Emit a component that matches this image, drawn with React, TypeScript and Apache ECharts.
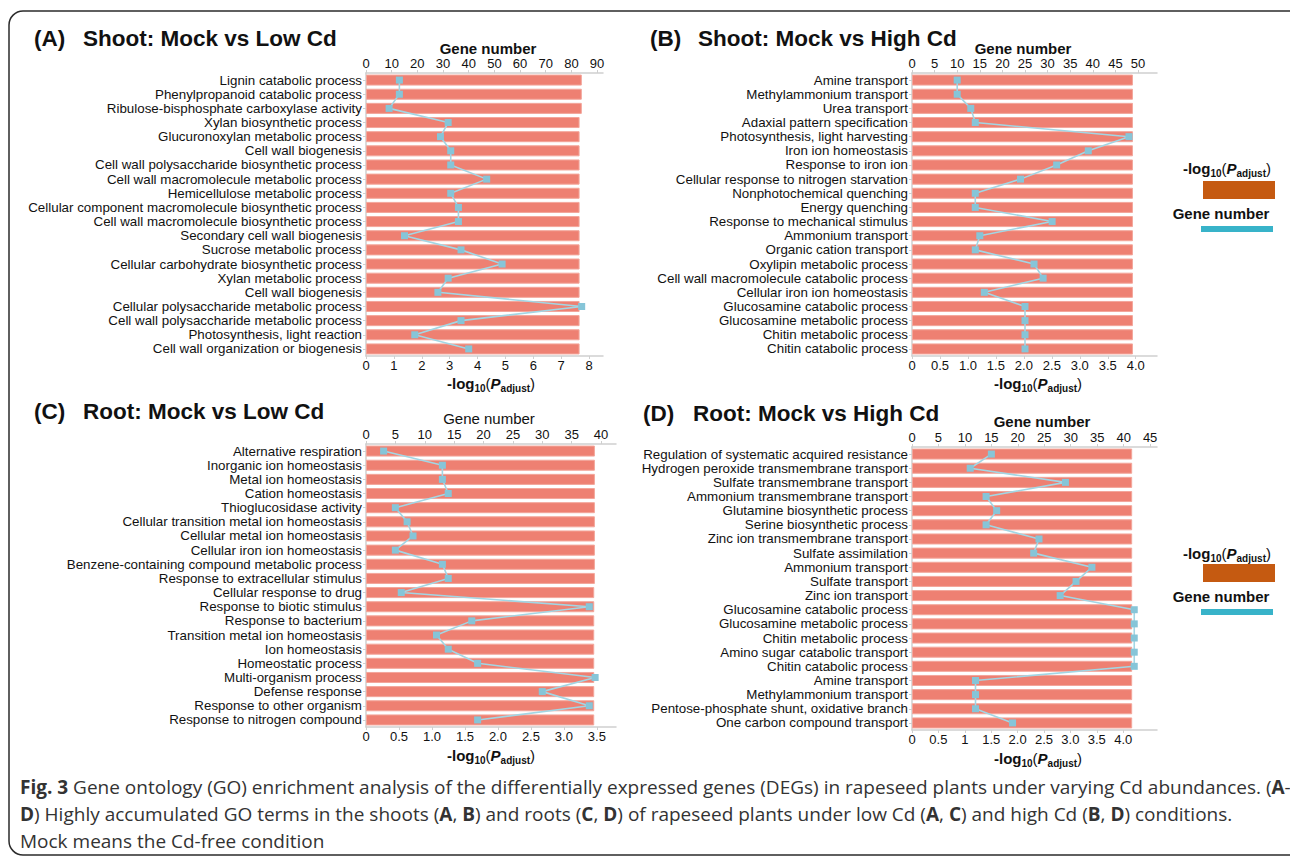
import React, { useEffect, useRef } from "react";
import * as echarts from "echarts";

// ---------- DATA ----------
const catsA = [
  "Lignin catabolic process",
  "Phenylpropanoid catabolic process",
  "Ribulose-bisphosphate carboxylase activity",
  "Xylan biosynthetic process",
  "Glucuronoxylan metabolic process",
  "Cell wall biogenesis",
  "Cell wall polysaccharide biosynthetic process",
  "Cell wall macromolecule metabolic process",
  "Hemicellulose metabolic process",
  "Cellular component macromolecule biosynthetic process",
  "Cell wall macromolecule biosynthetic process",
  "Secondary cell wall biogenesis",
  "Sucrose metabolic process",
  "Cellular carbohydrate biosynthetic process",
  "Xylan metabolic process",
  "Cell wall biogenesis",
  "Cellular polysaccharide metabolic process",
  "Cell wall polysaccharide metabolic process",
  "Photosynthesis, light reaction",
  "Cell wall organization or biogenesis",
];
const pvalA = [7.74, 7.74, 7.74, 7.66, 7.66, 7.66, 7.66, 7.66, 7.66, 7.66, 7.66, 7.66, 7.66, 7.66, 7.66, 7.66, 7.66, 7.66, 7.66, 7.66];
const genesA = [13, 13, 9, 32, 29, 33, 33, 47, 33, 36, 36, 15, 37, 53, 32, 28, 84, 37, 19, 40];

const catsB = [
  "Amine transport",
  "Methylammonium transport",
  "Urea transport",
  "Adaxial pattern specification",
  "Photosynthesis, light harvesting",
  "Iron ion homeostasis",
  "Response to iron ion",
  "Cellular response to nitrogen starvation",
  "Nonphotochemical quenching",
  "Energy quenching",
  "Response to mechanical stimulus",
  "Ammonium transport",
  "Organic cation transport",
  "Oxylipin metabolic process",
  "Cell wall macromolecule catabolic process",
  "Cellular iron ion homeostasis",
  "Glucosamine catabolic process",
  "Glucosamine metabolic process",
  "Chitin metabolic process",
  "Chitin catabolic process",
];
const pvalB = [3.95, 3.95, 3.95, 3.95, 3.95, 3.95, 3.95, 3.95, 3.95, 3.95, 3.95, 3.95, 3.95, 3.95, 3.95, 3.95, 3.95, 3.95, 3.95, 3.95];
const genesB = [10, 10, 13, 14, 48, 39, 32, 24, 14, 14, 31, 15, 14, 27, 29, 16, 25, 25, 25, 25];

const catsC = [
  "Alternative respiration",
  "Inorganic ion homeostasis",
  "Metal ion homeostasis",
  "Cation homeostasis",
  "Thioglucosidase activity",
  "Cellular transition metal ion homeostasis",
  "Cellular metal ion homeostasis",
  "Cellular iron ion homeostasis",
  "Benzene-containing compound metabolic process",
  "Response to extracellular stimulus",
  "Cellular response to drug",
  "Response to biotic stimulus",
  "Response to bacterium",
  "Transition metal ion homeostasis",
  "Ion homeostasis",
  "Homeostatic process",
  "Multi-organism process",
  "Defense response",
  "Response to other organism",
  "Response to nitrogen compound",
];
const pvalC = [3.47, 3.47, 3.47, 3.47, 3.47, 3.47, 3.47, 3.47, 3.47, 3.47, 3.46, 3.46, 3.46, 3.46, 3.46, 3.46, 3.46, 3.46, 3.46, 3.46];
const genesC = [3, 13, 13, 14, 5, 7, 8, 5, 13, 14, 6, 38, 18, 12, 14, 19, 39, 30, 38, 19];

const catsD = [
  "Regulation of systematic acquired resistance",
  "Hydrogen peroxide transmembrane transport",
  "Sulfate transmembrane transport",
  "Ammonium transmembrane transport",
  "Glutamine biosynthetic process",
  "Serine biosynthetic process",
  "Zinc ion transmembrane transport",
  "Sulfate assimilation",
  "Ammonium transport",
  "Sulfate transport",
  "Zinc ion transport",
  "Glucosamine catabolic process",
  "Glucosamine metabolic process",
  "Chitin metabolic process",
  "Amino sugar catabolic transport",
  "Chitin catabolic process",
  "Amine transport",
  "Methylammonium transport",
  "Pentose-phosphate shunt, oxidative branch",
  "One carbon compound transport",
];
const pvalD = [4.17, 4.17, 4.17, 4.17, 4.17, 4.17, 4.17, 4.17, 4.17, 4.17, 4.17, 4.17, 4.17, 4.17, 4.17, 4.17, 4.17, 4.17, 4.17, 4.17];
const genesD = [15, 11, 29, 14, 16, 14, 24, 23, 34, 31, 28, 42, 42, 42, 42, 42, 12, 12, 12, 19];

// tick labels
const geneTicksA = ["0", "10", "20", "30", "40", "50", "60", "70", "80", "90"];
const pTicksA = ["0", "1", "2", "3", "4", "5", "6", "7", "8"];
const geneTicksB = ["0", "5", "10", "15", "20", "25", "30", "35", "40", "45", "50"];
const pTicksB = ["0", "0.5", "1.0", "1.5", "2.0", "2.5", "3.0", "3.5", "4.0"];
const geneTicksC = ["0", "5", "10", "15", "20", "25", "30", "35", "40"];
const pTicksC = ["0", "0.5", "1.0", "1.5", "2.0", "2.5", "3.0", "3.5"];
const geneTicksD = ["0", "5", "10", "15", "20", "25", "30", "35", "40", "45"];
const pTicksD = ["0", "0.5", "1", "1.5", "2.0", "2.5", "3.0", "3.5", "4.0"];

const titles = [
  ["(A)", "Shoot: Mock vs Low Cd"],
  ["(B)", "Shoot: Mock vs High Cd"],
  ["(C)", "Root: Mock vs Low Cd"],
  ["(D)", "Root: Mock vs High Cd"],
];

// ---------- STYLE / LAYOUT ----------
const FONT = "'Liberation Sans', Arial, Helvetica, sans-serif";
const AXIS_COLOR = "#cfcfcf";
const BAR_COLOR = "#ee8072";
const LINE_COLOR = "#a2d6e4";
const MARK_COLOR = "#86c5d8";
const TXT = "#111";
const CAT_FONT_SIZE = 13.35;

const panels = [
  { cats: catsA, pv: pvalA, genes: genesA, gT: geneTicksA, pT: pTicksA, gMax: 92.3, pMax: 8.5,
    grid: { left: 366, top: 73, width: 237, height: 283 }, geneBold: true,
    title: { x1: 34, x2: 83, y: 38 }, geneTitle: { x: 488, y: 48 }, logTitle: { x: 491, y: 383 } },
  { cats: catsB, pv: pvalB, genes: genesB, gT: geneTicksB, pT: pTicksB, gMax: 54.2, pMax: 4.38,
    grid: { left: 912, top: 73, width: 245, height: 283 }, geneBold: true,
    title: { x1: 650, x2: 698, y: 38 }, geneTitle: { x: 1023, y: 48 }, logTitle: { x: 1038, y: 383 } },
  { cats: catsC, pv: pvalC, genes: genesC, gT: geneTicksC, pT: pTicksC, gMax: 42.55, pMax: 3.79,
    grid: { left: 366, top: 444, width: 250, height: 283 }, geneBold: false,
    title: { x1: 34, x2: 83, y: 411 }, geneTitle: { x: 489, y: 418 }, logTitle: { x: 491, y: 755 } },
  { cats: catsD, pv: pvalD, genes: genesD, gT: geneTicksD, pT: pTicksD, gMax: 46.3, pMax: 4.64,
    grid: { left: 912, top: 447, width: 245, height: 283 }, geneBold: true,
    title: { x1: 643, x2: 693, y: 413 }, geneTitle: { x: 1042, y: 421 }, logTitle: { x: 1038, y: 758 } },
];

function tickFormatter(labels: string[]) {
  const vals = labels.map((s) => parseFloat(s));
  return {
    vals,
    fmt: (v: number) => {
      const i = vals.findIndex((x) => Math.abs(x - v) < 1e-6);
      return i >= 0 ? labels[i] : "";
    },
  };
}

function logRich(x: number, y: number, align: string) {
  const base = { fontFamily: FONT, fill: TXT };
  return {
    type: "text",
    x,
    y,
    silent: true,
    style: {
      text: "{a|-log}{s|10}{b|(}{p|P}{s|adjust}{b|)}",
      align,
      verticalAlign: "middle",
      textAlign: align,
      textVerticalAlign: "middle",
      fontFamily: FONT,
      fill: TXT,
      rich: {
        a: { ...base, fontSize: 15, fontWeight: "bold", lineHeight: 20, verticalAlign: "middle" },
        b: { ...base, fontSize: 15, fontWeight: "normal", lineHeight: 20, verticalAlign: "middle" },
        p: { ...base, fontSize: 15, fontWeight: "bold", fontStyle: "italic", lineHeight: 20, verticalAlign: "middle" },
        s: { ...base, fontSize: 10, fontWeight: "bold", lineHeight: 10, verticalAlign: "bottom" },
      },
    },
  };
}

function txt(x: number, y: number, text: string, opts: any = {}) {
  const align = opts.align || "left";
  return {
    type: "text",
    x,
    y,
    silent: true,
    style: {
      text,
      fontFamily: opts.fontFamily || FONT,
      fontSize: opts.fontSize || 13,
      fontWeight: opts.fontWeight || "normal",
      fill: opts.fill || TXT,
      align,
      textAlign: align,
      verticalAlign: "middle",
      textVerticalAlign: "middle",
      rich: opts.rich,
    },
  };
}

function buildOption() {
  const grids: any[] = [];
  const xAxes: any[] = [];
  const yAxes: any[] = [];
  const series: any[] = [];
  const graphics: any[] = [];

  panels.forEach((p, i) => {
    grids.push({ ...p.grid, containLabel: false });
    const pt = tickFormatter(p.pT);
    const gt = tickFormatter(p.gT);
    const labelStyle = { color: TXT, fontSize: 13, fontFamily: FONT };
    xAxes.push({
      type: "value",
      gridIndex: i,
      position: "bottom",
      min: 0,
      max: p.pMax,
      axisLine: { show: true, onZero: false, lineStyle: { color: AXIS_COLOR, width: 1.5 } },
      axisTick: { show: true, length: 3, lineStyle: { color: AXIS_COLOR }, customValues: pt.vals },
      axisLabel: { ...labelStyle, margin: 3, customValues: pt.vals, formatter: pt.fmt },
      splitLine: { show: false },
    });
    xAxes.push({
      type: "value",
      gridIndex: i,
      position: "top",
      min: 0,
      max: p.gMax,
      axisLine: { show: true, onZero: false, lineStyle: { color: AXIS_COLOR, width: 1.5 } },
      axisTick: { show: true, length: 3, lineStyle: { color: AXIS_COLOR }, customValues: gt.vals },
      axisLabel: { ...labelStyle, margin: 3, customValues: gt.vals, formatter: gt.fmt },
      splitLine: { show: false },
    });
    yAxes.push({
      type: "category",
      gridIndex: i,
      inverse: true,
      data: p.cats,
      axisLine: { show: true, lineStyle: { color: AXIS_COLOR, width: 1.5 } },
      axisTick: { show: true, alignWithLabel: true, length: 3, lineStyle: { color: AXIS_COLOR } },
      axisLabel: { color: TXT, fontFamily: FONT, fontSize: CAT_FONT_SIZE, margin: 4, interval: 0 },
      splitLine: { show: false },
    });
    series.push({
      type: "bar",
      xAxisIndex: 2 * i,
      yAxisIndex: i,
      data: p.pv,
      barWidth: "78%",
      itemStyle: { color: BAR_COLOR, borderColor: "#f3a69b", borderWidth: 1 },
      silent: true,
      z: 2,
    });
    series.push({
      type: "line",
      xAxisIndex: 2 * i + 1,
      yAxisIndex: i,
      data: p.genes,
      symbol: "rect",
      symbolSize: 7,
      lineStyle: { color: LINE_COLOR, width: 1.6 },
      itemStyle: { color: MARK_COLOR },
      silent: true,
      z: 3,
    });

    graphics.push(txt(p.title.x1, p.title.y, titles[i][0], { fontSize: 22.5, fontWeight: "bold" }));
    graphics.push(txt(p.title.x2, p.title.y, titles[i][1], { fontSize: 22.5, fontWeight: "bold" }));
    graphics.push(
      txt(p.geneTitle.x, p.geneTitle.y, "Gene number", {
        fontSize: 15,
        fontWeight: p.geneBold ? "bold" : "normal",
        align: "center",
      })
    );
    graphics.push(logRich(p.logTitle.x, p.logTitle.y, "center"));
  });

  // right-hand legends
  [
    { ty: 168, ry: 181, gy: 213, by: 226 },
    { ty: 553, ry: 564, gy: 596, by: 609 },
  ].forEach((l) => {
    graphics.push(logRich(1271, l.ty, "right"));
    graphics.push({ type: "rect", silent: true, shape: { x: 1203, y: l.ry, width: 72, height: 18 }, style: { fill: "#c55a11" } });
    graphics.push(txt(1221, l.gy, "Gene number", { fontSize: 15, fontWeight: "bold", align: "center" }));
    graphics.push({ type: "rect", silent: true, shape: { x: 1201, y: l.by, width: 72, height: 6 }, style: { fill: "#38b3c9" } });
  });

  // frame
  graphics.push({
    type: "rect",
    silent: true,
    shape: { x: 9, y: 11, width: 1320, height: 844, r: 14 },
    style: { fill: "none", stroke: "#2b2b2b", lineWidth: 1.5 },
  });

  // caption
  const CAP_FONT = "'Open Sans', Roboto, sans-serif";
  const CAP_SIZE = 19;
  const capRich = {
    b: { fontFamily: CAP_FONT, fontSize: CAP_SIZE, fontWeight: "bold", fill: "#333" },
  };
  const capLines = [
    "{b|Fig. 3} Gene ontology (GO) enrichment analysis of the differentially expressed genes (DEGs) in rapeseed plants under varying Cd abundances. ({b|A}-",
    "{b|D}) Highly accumulated GO terms in the shoots ({b|A}, {b|B}) and roots ({b|C}, {b|D}) of rapeseed plants under low Cd ({b|A}, {b|C}) and high Cd ({b|B}, {b|D}) conditions.",
    "Mock means the Cd-free condition",
  ];
  [787, 814, 841].forEach((y, k) => {
    graphics.push(txt(20, y, capLines[k], { fontFamily: CAP_FONT, fontSize: CAP_SIZE, fill: "#333", rich: capRich }));
  });

  return {
    animation: false,
    backgroundColor: "#ffffff",
    grid: grids,
    xAxis: xAxes,
    yAxis: yAxes,
    series,
    graphic: { elements: graphics },
  };
}

export default function App() {
  const ref = useRef<HTMLDivElement>(null);
  useEffect(() => {
    if (!ref.current) return;
    const chart = echarts.init(ref.current, undefined, { renderer: "svg" });
    chart.setOption(buildOption() as any);
    return () => chart.dispose();
  }, []);
  return (
    <div
      ref={ref}
      style={{ position: "absolute", left: 0, top: 0, width: 1290, height: 860, background: "#fff" }}
    />
  );
}
